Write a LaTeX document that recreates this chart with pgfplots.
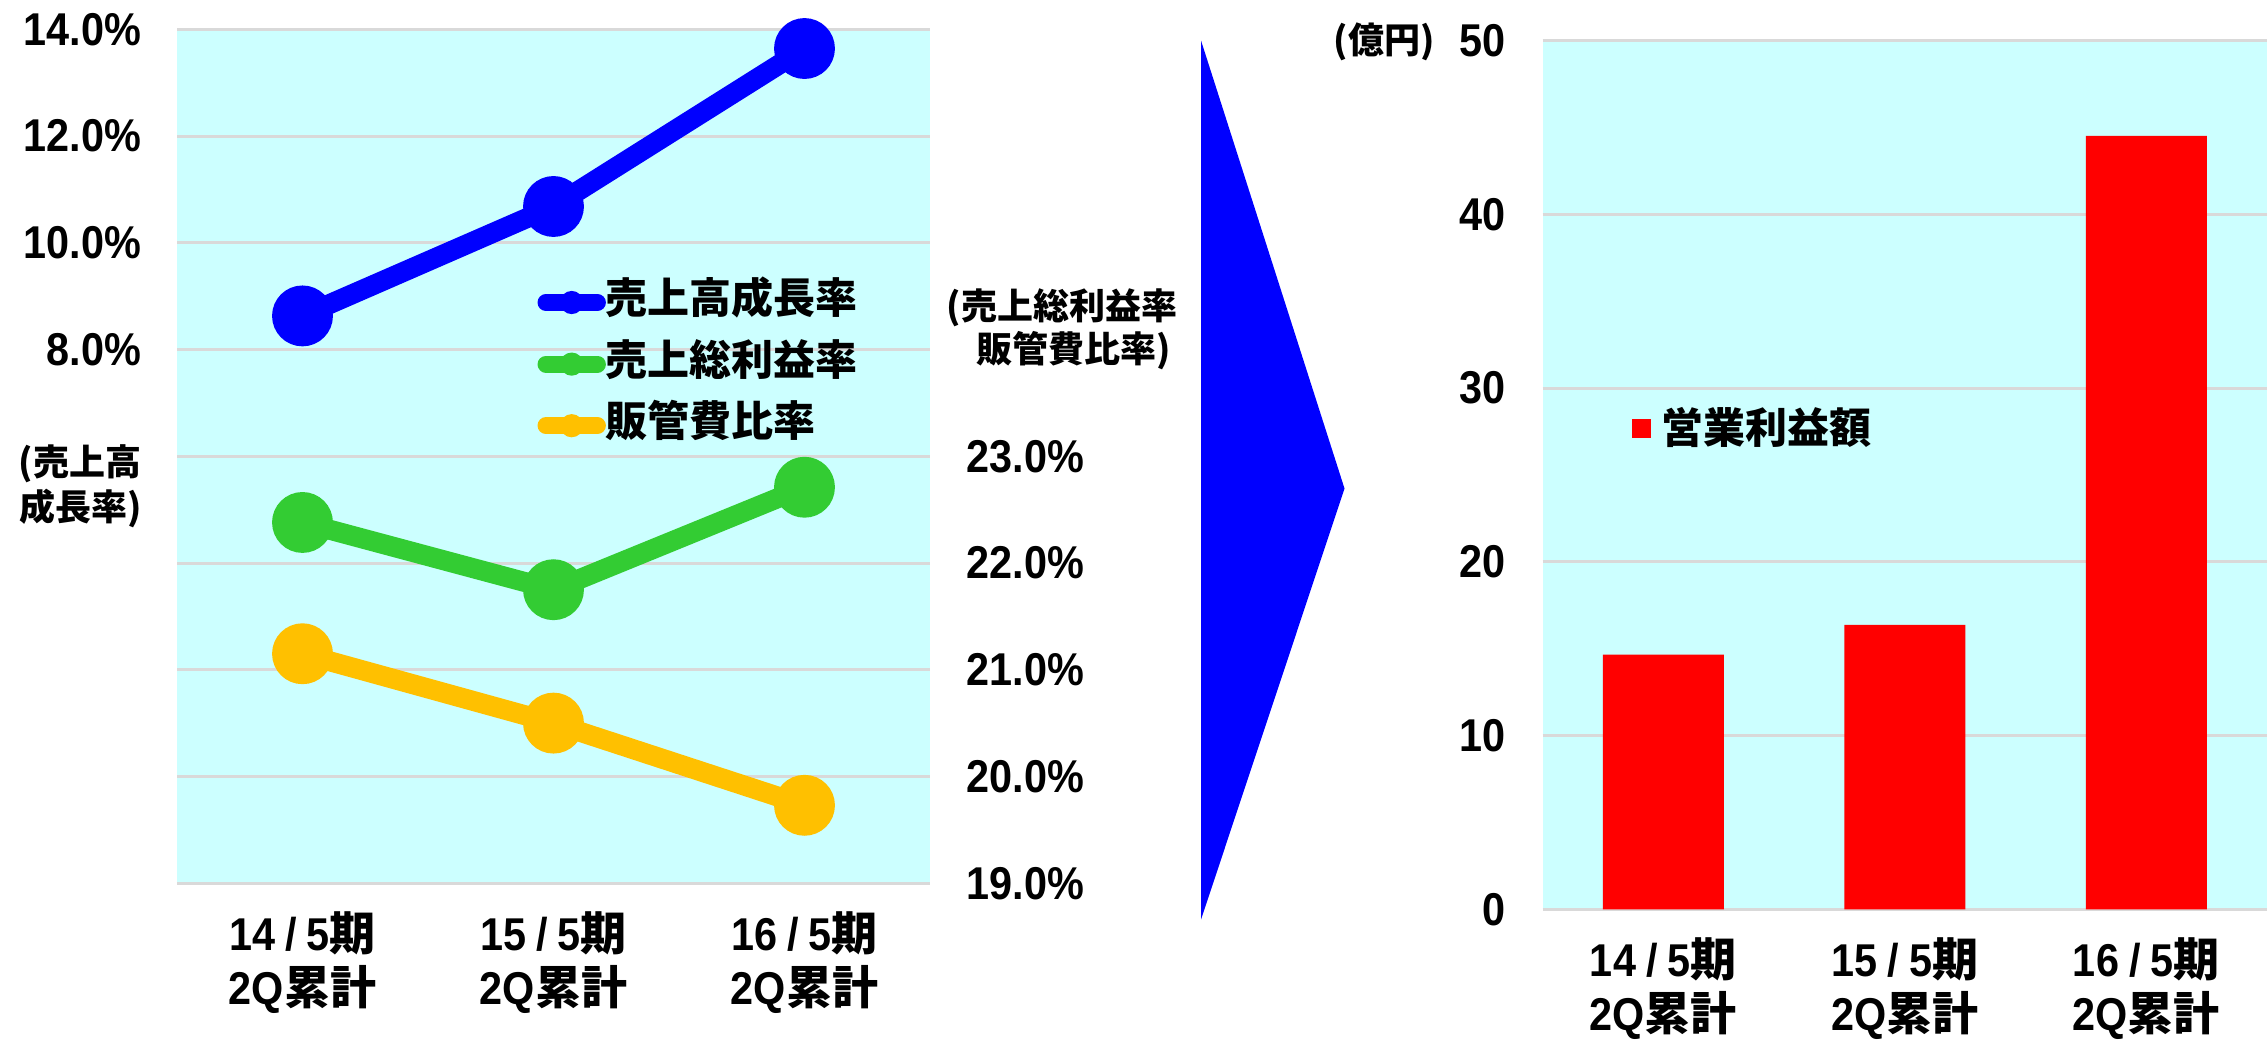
\documentclass[border=0pt]{standalone}
\usepackage{fontspec}
\usepackage{pgfplots}
\pgfplotsset{compat=1.18}

\setmainfont{Liberation Sans}[FakeStretch=0.9]
\newfontfamily\jpfont{Noto Sans CJK JP}
% Japanese text inside tick labels; smashed so the line spacing follows the Latin font
\newcommand{\jp}[1]{{\jpfont\bfseries\smash{#1}}}
\newcommand{\sep}{\kern2.5pt/\kern2.5pt}

\newcommand\numfont{\bfseries\fontsize{11.5pt}{13.4pt}\selectfont}
\newcommand\legfont{\jpfont\bfseries\fontsize{10.5pt}{12pt}\selectfont}
\newcommand\titlefont{\jpfont\bfseries\fontsize{9pt}{10pt}\selectfont}

\definecolor{cyanbg}{RGB}{204,255,255}
\definecolor{gridgray}{RGB}{217,217,217}
\definecolor{lineblue}{RGB}{0,0,255}
\definecolor{linegreen}{RGB}{51,204,51}
\definecolor{lineorange}{RGB}{255,192,0}
\definecolor{barred}{RGB}{255,0,0}

% ratios per half-year period (first half cumulative)
\pgfplotstableread{
x growth gross sga
0 8.63  22.38 21.15
1 10.68 21.75 20.50
2 13.64 22.71 19.73
}\ratios

% operating income, 100 million yen
\pgfplotstableread{
x income
0 14.66
1 16.37
2 44.52
}\income

\pgfplotsset{
  panel/.style={
    scale only axis, anchor=south west, clip=false,
    xmin=-0.5, xmax=2.5,
    axis line style={draw=none},
    major tick length=0pt,
    grid style={line width=0.75pt, color=gridgray},
  },
  period labels/.style={
    xtick={0,1,2},
    xticklabels={{14\sep5\jp{期}\\2Q\jp{累計}},{15\sep5\jp{期}\\2Q\jp{累計}},{16\sep5\jp{期}\\2Q\jp{累計}}},
    xticklabel style={align=center, anchor=north, inner sep=0pt, yshift=-8.3pt, font=\numfont},
  },
  ratio line/.style={color=#1, line width=5pt, mark=*, mark size=5.1pt,
    mark options={draw=none, fill=#1}},
}

\begin{document}
\begin{tikzpicture}
\path[use as bounding box] (0pt,0pt) rectangle (566.75pt,-260pt);

% left panel: sales growth rate (left scale)
\begin{axis}[
  panel, period labels,
  at={(44.25pt,-220.8pt)},
  width=188.25pt, height=213.475pt,
  ymin=-2, ymax=14,
  axis background/.style={fill=cyanbg},
  ymajorgrids,
  ytick={-2,0,...,14},
  yticklabels={,,,,,8.0\%,10.0\%,12.0\%,14.0\%},
  yticklabel style={anchor=east, inner sep=0pt, xshift=-8.75pt, font=\numfont},
  legend cell align=left,
  legend image code/.code={
    \draw[#1, mark=none, line width=4.2pt, line cap=round] (2.1pt,0pt) -- (15pt,0pt);
    \fill[#1, mark=none, draw=none] (8.55pt,0pt) circle[radius=2.9pt];
  },
  legend style={draw=none, fill=none, at={(0.4777,0.7056)}, anchor=north west,
    inner sep=0pt, row sep=4.9pt,
    nodes={inner sep=0pt, text height=8pt, text depth=2.5pt, font=\legfont},
    /tikz/every odd column/.append style={column sep=0pt}},
]
\addplot[ratio line=lineblue] table[x=x, y=growth] {\ratios};
\addlegendentry{売上高成長率}
\addlegendimage{color=linegreen}
\addlegendentry{売上総利益率}
\addlegendimage{color=lineorange}
\addlegendentry{販管費比率}
\end{axis}

% left panel: gross margin and SG&A ratio (right scale)
\begin{axis}[
  panel,
  at={(44.25pt,-220.8pt)},
  width=188.25pt, height=213.475pt,
  ymin=19, ymax=27,
  axis y line*=right,
  xtick=\empty,
  ytick={19,20,21,22,23},
  yticklabels={19.0\%,20.0\%,21.0\%,22.0\%,23.0\%},
  yticklabel style={anchor=west, inner sep=0pt, xshift=9pt, font=\numfont},
]
\addplot[ratio line=linegreen] table[x=x, y=gross] {\ratios};
\addplot[ratio line=lineorange] table[x=x, y=sga] {\ratios};
\end{axis}

% right panel: operating income
\begin{axis}[
  panel, period labels,
  at={(385.625pt,-227.325pt)},
  width=181.125pt, height=217.15pt,
  ymin=0, ymax=50,
  axis background/.style={fill=cyanbg},
  ymajorgrids,
  ybar, bar width=30.25pt,
  ytick={0,10,...,50},
  yticklabels={0,10,20,30,40,50},
  yticklabel style={anchor=east, inner sep=0pt, xshift=-9.1pt, font=\numfont},
  legend image code/.code={\fill[barred] (0pt,-2.375pt) rectangle (4.75pt,2.375pt);},
  legend style={draw=none, fill=none, at={(0.1222,0.554)}, anchor=west,
    inner sep=0pt,
    nodes={inner sep=0pt, font=\legfont},
    /tikz/every odd column/.append style={column sep=2.75pt}},
]
\addplot[fill=barred, draw=none] table[x=x, y=income] {\income};
\addlegendentry{営業利益額}
\end{axis}

\begin{scope}[x=0.25pt, y=-0.25pt]
  % arrow between the panels
  \fill[lineblue] (1201,40.5) -- (1344.5,488.5) -- (1201,919.5) -- cycle;
  % axis titles
  \node[font=\titlefont, inner sep=0pt] at (80,464) {(売上高};
  \node[font=\titlefont, inner sep=0pt] at (81,508) {成長率)};
  \node[font=\titlefont, inner sep=0pt] at (1062,307.5) {(売上総利益率};
  \node[font=\titlefont, inner sep=0pt] at (1073.5,351) {販管費比率)};
  \node[font=\titlefont, inner sep=0pt] at (1384,42) {(億円)};
\end{scope}
\end{tikzpicture}
\end{document}
